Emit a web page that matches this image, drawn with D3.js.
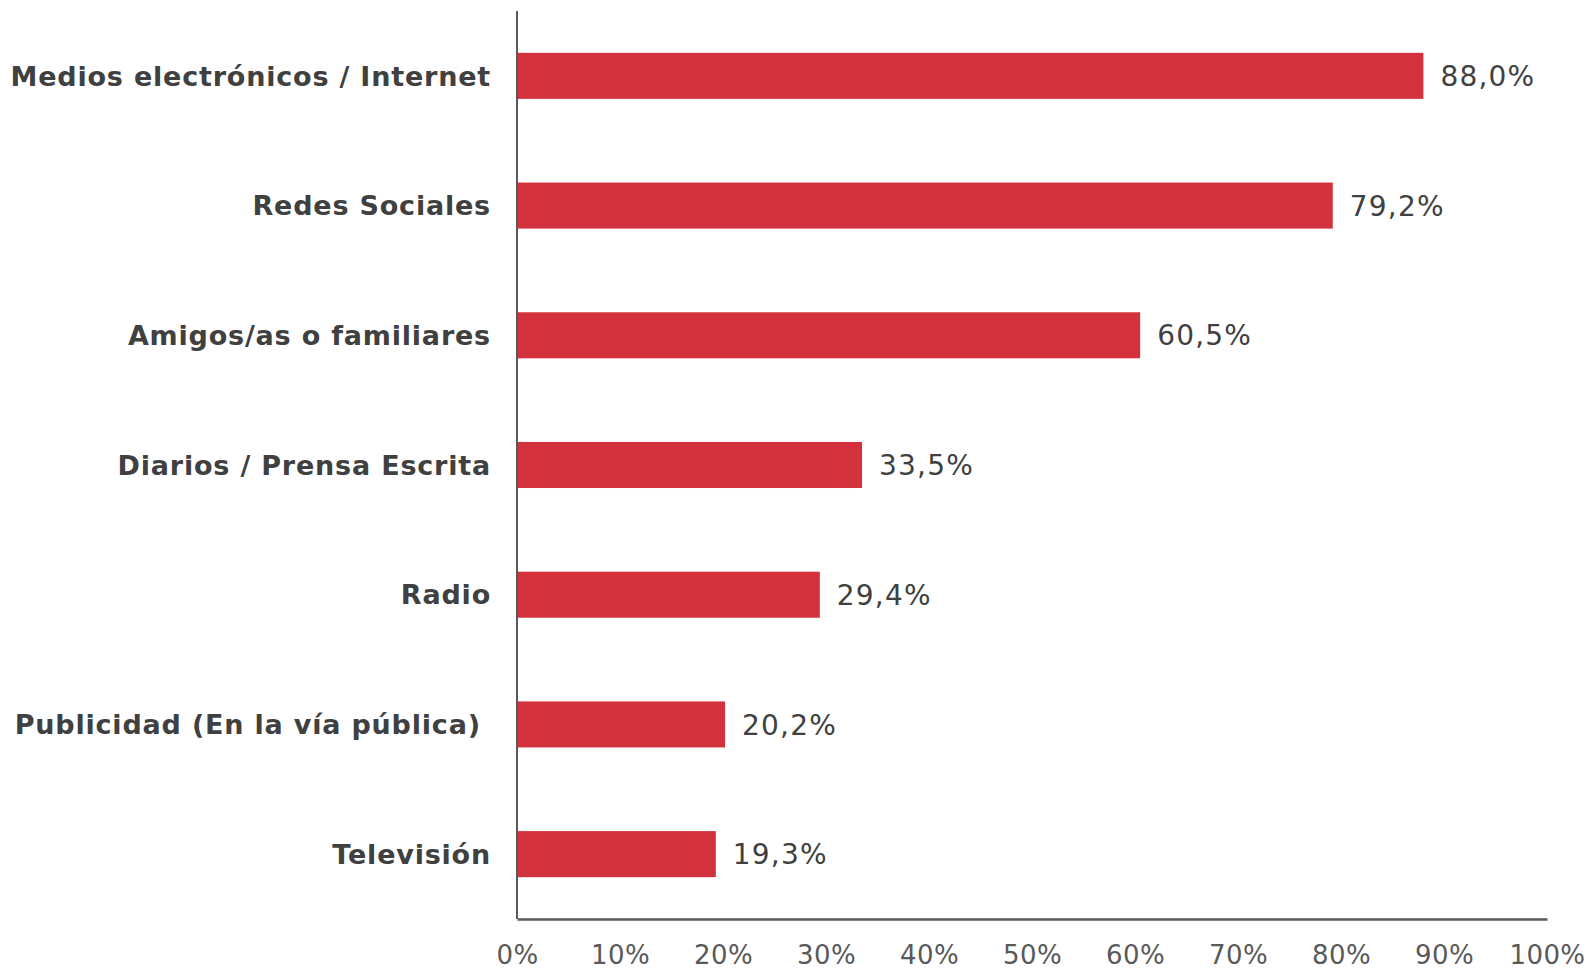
<!DOCTYPE html>
<html><head><meta charset="utf-8">
<script src="https://cdn.jsdelivr.net/npm/d3@7"></script>
<style>body{margin:0;background:#fff}svg{display:block}</style>
</head><body>
<svg id="c" width="1594" height="971"></svg>
<script>
const categories = ["Medios electrónicos / Internet","Redes Sociales","Amigos/as o familiares","Diarios / Prensa Escrita","Radio","Publicidad (En la vía pública) ","Televisión"];
const values = [88.0, 79.2, 60.5, 33.5, 29.4, 20.2, 19.3];
const ticks = [0,10,20,30,40,50,60,70,80,90,100];

const svg = d3.select("#c");
const x0 = 517, x1 = 1547, yTop = 11, yBot = 919;
const x = d3.scaleLinear().domain([0,100]).range([x0,x1]);
const y = d3.scaleBand().domain(categories).range([yTop,yBot]).paddingInner(0.645).paddingOuter(0.3225);
const font = "'DejaVu Sans', Verdana, sans-serif";

svg.selectAll("rect.bar").data(values).join("rect")
  .attr("x", x(0)).attr("y", (d,i)=>y(categories[i]))
  .attr("width", d=>x(d)-x(0)).attr("height", y.bandwidth())
  .attr("fill", "#D3313C");

svg.selectAll("text.val").data(values).join("text")
  .attr("x", d=>x(d)+17).attr("y", (d,i)=>y(categories[i])+y.bandwidth()/2)
  .attr("dy","0.36em").attr("font-family",font).attr("font-size",28).attr("letter-spacing",1.2).attr("fill","#404040")
  .text(d=>d.toFixed(1).replace(".",",")+"%");

svg.selectAll("text.cat").data(categories).join("text")
  .attr("x", x0-26).attr("y", d=>y(d)+y.bandwidth()/2)
  .attr("dy","0.36em").attr("text-anchor","end").attr("font-family",font).attr("font-weight","bold")
  .attr("font-size",27).attr("letter-spacing",0.8).attr("fill","#404040").attr("xml:space","preserve").style("white-space","pre")
  .text(d=>d);

// axes
const xAxis = d3.axisBottom(x).tickValues(ticks).tickSize(0).tickFormat(d=>d+"%");
const gx = svg.append("g").attr("transform",`translate(0,${yBot})`).call(xAxis);
gx.select(".domain").attr("stroke","#595959").attr("stroke-width",2.5);
gx.selectAll("text").attr("font-family",font).attr("font-size",26).attr("letter-spacing",0.4).attr("fill","#595959").attr("dy",0).attr("y",45);

svg.append("line").attr("x1",x0).attr("x2",x0).attr("y1",yTop).attr("y2",yBot)
  .attr("stroke","#595959").attr("stroke-width",2);
</script>
</body></html>
